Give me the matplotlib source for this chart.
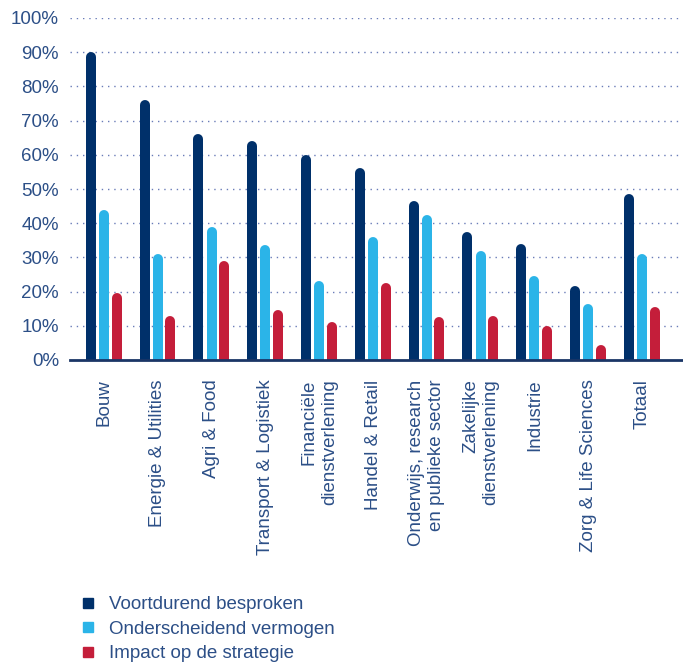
import matplotlib
matplotlib.use("Agg")
import matplotlib.pyplot as plt
from matplotlib.lines import Line2D
import numpy as np

plt.rcParams['font.family'] = ['Liberation Sans', 'DejaVu Sans']

sectors = ["Bouw", "Energie & Utilities", "Agri & Food", "Transport & Logistiek",
           "Financiële\ndienstverlening", "Handel & Retail",
           "Onderwijs, research\nen publieke sector", "Zakelijke\ndienstverlening",
           "Industrie", "Zorg & Life Sciences", "Totaal"]
series_names = ["Voortdurend besproken", "Onderscheidend vermogen", "Impact op de strategie"]
voortdurend = [90, 76, 66, 64, 60, 56, 46.5, 37.5, 34, 21.5, 48.5]
onderscheidend = [44, 31, 39, 33.5, 23, 36, 42.5, 32, 24.5, 16.5, 31]
impact = [19.5, 13, 29, 14.5, 11, 22.5, 12.5, 13, 10, 4.5, 15.5]

colors = ["#00306a", "#2bb4e8", "#c41e3a"]
text_col = "#2c4f87"

W, H = 683, 662
fig = plt.figure(figsize=(W / 100, H / 100), dpi=100)
ax = fig.add_axes([70 / W, 1 - 360 / H, 1 - 70 / W, (360 - 18) / H])

x = np.arange(len(sectors))
ax.set_xlim(-0.63, 10.76)
ax.set_ylim(0, 100)

# bars as thick lines with round caps; the lower cap is clipped at 0
bar_px = 10
bar_pt = bar_px * 72 / 100
px_per_unit = (360 - 18) / 100
r = (bar_px / 2) / px_per_unit
offsets = [-0.245, 0, 0.235]
for vals, off, c in zip([voortdurend, onderscheidend, impact], offsets, colors):
    for xi, v in zip(x, vals):
        ax.plot([xi + off, xi + off], [-5, v - r], color=c, lw=bar_pt,
                solid_capstyle='round', zorder=3)

# grid
for g in range(10, 101, 10):
    ax.axhline(g, color="#6a7cb8", lw=1.0, ls=(0, (1, 3.5)), zorder=1)

for s in ["top", "right", "left"]:
    ax.spines[s].set_visible(False)
ax.spines["bottom"].set_color("#1a3566")
ax.spines["bottom"].set_linewidth(2)
ax.spines["bottom"].set_zorder(4)

ax.set_yticks(range(0, 101, 10))
ax.set_yticklabels([f"{v}%" for v in range(0, 101, 10)], fontsize=13.5, color=text_col)
ax.tick_params(axis="y", length=0, pad=8)
ax.set_xticks(x)
ax.set_xticklabels(sectors, rotation=90, fontsize=13.5, color=text_col,
                   ha="center", va="top", multialignment="right", linespacing=1.25)
ax.tick_params(axis="x", length=0, pad=14)

handles = [Line2D([], [], ls="none", marker="s", markersize=7, color=c) for c in colors]
fig.legend(handles, series_names, loc="upper left", bbox_to_anchor=(80 / W, 1 - 596 / H),
           frameon=False, fontsize=13.5, labelcolor=text_col, handlelength=0.8,
           handletextpad=0.75, labelspacing=0.4, borderpad=0, borderaxespad=0)

fig.savefig("out.png", dpi=100)
